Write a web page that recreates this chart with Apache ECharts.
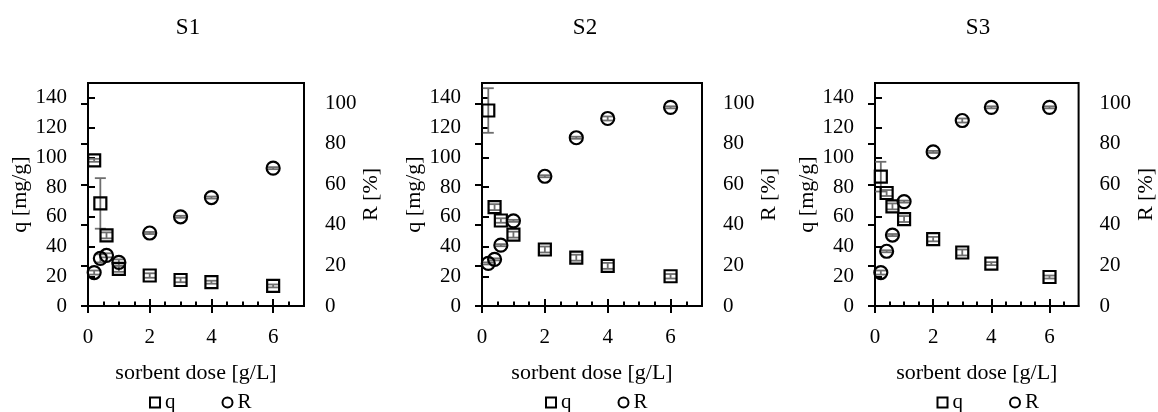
<!DOCTYPE html>
<html>
<head>
<meta charset="utf-8">
<script src="https://cdn.jsdelivr.net/npm/echarts@6/dist/echarts.min.js"></script>
<style>
  html, body { margin: 0; padding: 0; background: #fff; }
  #chart { width: 1158px; height: 412px; }
</style>
</head>
<body>
<div id="chart"></div>
<script>
// sorbent dose [g/L]
const doses = [0.2, 0.4, 0.6, 1, 2, 3, 4, 6]
const panelNames = ['S1', 'S2', 'S3']

// q [mg/g] and its error
const qS1 = [98, 69, 47.5, 25, 20.5, 17.5, 16, 13.5]
const qErrS1 = [1, 17, 2, 2, 1.5, 1.5, 1, 1]
const qS2 = [131.5, 66.5, 57.5, 48, 38, 32.5, 27, 20]
const qErrS2 = [15, 2, 1.5, 2, 2, 2, 2, 1.5]
const qS3 = [87, 76, 67, 58.5, 45, 36, 28.5, 19.5]
const qErrS3 = [10, 2, 2, 2, 1.5, 2, 1, 1]

// R [%] and its error
const rS1 = [16.5, 23.5, 25, 21.5, 36, 44, 53.5, 68]
const rErrS1 = [1, 2, 1, 1.5, 0.5, 0.5, 0.5, 0.5]
const rS2 = [21, 23, 30, 42, 64, 83, 92.5, 98]
const rErrS2 = [0.5, 0.5, 0.5, 0.5, 0.5, 0.5, 1, 0.5]
const rS3 = [16.5, 27, 35, 51.5, 76, 91.5, 98, 98]
const rErrS3 = [1, 0.5, 0.5, 0.5, 0.5, 1, 0.5, 0.5]

// tick labels
const xLabels = [0, 2, 4, 6]
const xMinor = [0.5, 1, 1.5, 2.5, 3, 3.5, 4.5, 5, 5.5, 6.5]
const qTicks = [0, 20, 40, 60, 80, 100, 120, 140]
const rTicks = [0, 20, 40, 60, 80, 100]

const panels = [
  { name: panelNames[0], q: qS1, qErr: qErrS1, r: rS1, rErr: rErrS1 },
  { name: panelNames[1], q: qS2, qErr: qErrS2, r: rS2, rErr: rErrS2 },
  { name: panelNames[2], q: qS3, qErr: qErrS3, r: rS3, rErr: rErrS3 }
]

const FONT = "'Liberation Serif', 'Times New Roman', serif"
const layout = [
  { left: 88, width: 216, title: 188 },
  { left: 482, width: 220, title: 585 },
  { left: 875, width: 217, title: 978 }
]
const TOP = 83
const HEIGHT = 223

function errorBarItem (params, api) {
  const x = api.value(0)
  const lo = api.coord([x, api.value(1)])
  const hi = api.coord([x, api.value(2)])
  const half = 5.5
  const style = { stroke: '#6e6e6e', lineWidth: 1.8 }
  return {
    type: 'group',
    children: [
      { type: 'line', shape: { x1: lo[0], y1: lo[1], x2: hi[0], y2: hi[1] }, style },
      { type: 'line', shape: { x1: hi[0] - half, y1: hi[1], x2: hi[0] + half, y2: hi[1] }, style },
      { type: 'line', shape: { x1: lo[0] - half, y1: lo[1], x2: lo[0] + half, y2: lo[1] }, style }
    ]
  }
}

const markerStyle = { color: 'rgba(0,0,0,0)', borderColor: '#000', borderWidth: 2.2, opacity: 1 }
const labelStyle = { color: '#000', fontFamily: FONT, fontSize: 21 }
const nameStyle = { color: '#000', fontFamily: FONT, fontSize: 22 }

const grid = []
const xAxis = []
const yAxis = []
const series = []
const legend = []
const graphic = []

panels.forEach((p, i) => {
  const L = layout[i]
  grid.push({
    left: L.left, top: TOP, width: L.width, height: HEIGHT,
    show: true, borderColor: '#000', borderWidth: 2, backgroundColor: 'transparent'
  })

  const xBase = { type: 'value', gridIndex: i, min: 0, max: 7, position: 'bottom', splitLine: { show: false } }
  // main x axis: labels and outer major ticks
  xAxis.push(Object.assign({}, xBase, {
    name: 'sorbent dose [g/L]',
    nameLocation: 'middle',
    nameGap: 56,
    nameTextStyle: nameStyle,
    axisLine: { show: true, lineStyle: { color: '#000', width: 2 } },
    axisTick: { show: true, inside: false, length: 7, customValues: xLabels, lineStyle: { color: '#000', width: 2 } },
    axisLabel: { show: true, margin: 21, customValues: xLabels, ...labelStyle }
  }))
  // inner major ticks
  xAxis.push(Object.assign({}, xBase, {
    axisLine: { show: false },
    axisTick: { show: true, inside: true, length: 7, customValues: xLabels, lineStyle: { color: '#000', width: 2 } },
    axisLabel: { show: false }
  }))
  // inner minor ticks
  xAxis.push(Object.assign({}, xBase, {
    axisLine: { show: false },
    axisTick: { show: true, inside: true, length: 4.5, customValues: xMinor, lineStyle: { color: '#000', width: 2 } },
    axisLabel: { show: false }
  }))

  yAxis.push({
    type: 'value', gridIndex: i, position: 'left', min: 0, max: 150,
    name: 'q [mg/g]', nameLocation: 'middle', nameGap: 45,
    nameTextStyle: nameStyle,
    splitLine: { show: false },
    axisLine: { show: true, lineStyle: { color: '#000', width: 2 } },
    axisTick: { show: true, inside: true, length: 7, customValues: qTicks, lineStyle: { color: '#000', width: 2 } },
    axisLabel: { margin: 21, customValues: qTicks, ...labelStyle }
  })
  yAxis.push({
    type: 'value', gridIndex: i, position: 'right', min: 0, max: 110,
    name: 'R [%]', nameLocation: 'middle', nameGap: 46,
    nameTextStyle: nameStyle,
    splitLine: { show: false },
    axisLine: { show: true, lineStyle: { color: '#000', width: 2 } },
    axisTick: { show: true, inside: true, length: 7, customValues: rTicks, lineStyle: { color: '#000', width: 2 } },
    axisLabel: { margin: 21, customValues: rTicks, ...labelStyle }
  })

  const xi = i * 3
  const yq = i * 2
  const yr = i * 2 + 1

  series.push({
    type: 'custom', xAxisIndex: xi, yAxisIndex: yq, z: 1,
    renderItem: errorBarItem, encode: { x: 0, y: [1, 2] },
    data: doses.map((d, k) => [d, p.q[k] - p.qErr[k], p.q[k] + p.qErr[k]])
  })
  series.push({
    type: 'custom', xAxisIndex: xi, yAxisIndex: yr, z: 1,
    renderItem: errorBarItem, encode: { x: 0, y: [1, 2] },
    data: doses.map((d, k) => [d, p.r[k] - p.rErr[k], p.r[k] + p.rErr[k]])
  })
  series.push({
    name: 'q', type: 'scatter', xAxisIndex: xi, yAxisIndex: yq, z: 3,
    symbol: 'rect', symbolSize: 12, itemStyle: markerStyle,
    emphasis: { disabled: true },
    data: doses.map((d, k) => [d, p.q[k]])
  })
  series.push({
    name: 'R', type: 'scatter', xAxisIndex: xi, yAxisIndex: yr, z: 3,
    symbol: 'circle', symbolSize: 13, itemStyle: markerStyle,
    emphasis: { disabled: true },
    data: doses.map((d, k) => [d, p.r[k]])
  })

  legend.push({
    left: L.left + L.width / 2 - 52, top: 387,
    itemWidth: 10, itemHeight: 10, itemGap: 46,
    selectedMode: false,
    textStyle: { color: '#000', fontFamily: FONT, fontSize: 21 },
    data: [
      { name: 'q', icon: 'rect', itemStyle: { color: 'rgba(0,0,0,0)', borderColor: '#000', borderWidth: 2, opacity: 1 } },
      { name: 'R', icon: 'circle', itemStyle: { color: 'rgba(0,0,0,0)', borderColor: '#000', borderWidth: 2, opacity: 1 } }
    ]
  })

  graphic.push({
    type: 'text', x: L.title, y: 28,
    style: { text: p.name, align: 'center', verticalAlign: 'middle', fill: '#000', font: '23px ' + FONT }
  })
})

const chart = echarts.init(document.getElementById('chart'))
chart.setOption({
  animation: false,
  backgroundColor: '#fff',
  grid,
  xAxis,
  yAxis,
  series,
  legend,
  graphic
})
</script>
</body>
</html>
